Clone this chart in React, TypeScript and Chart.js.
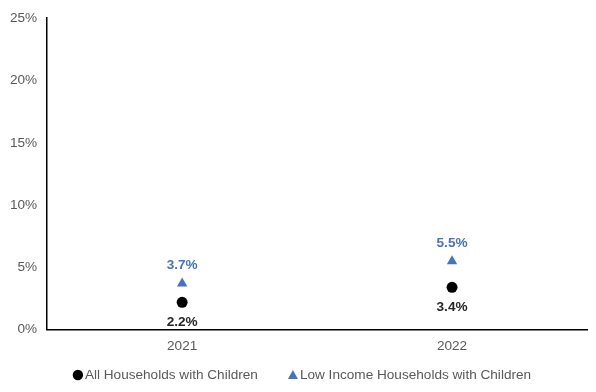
import React, { useEffect, useRef } from "react";
import { Chart, registerables } from "chart.js";

Chart.register(...registerables);

const categories = ["2021", "2022"];
const allHouseholds = [2.2, 3.4];
const lowIncome = [3.7, 5.5];
const seriesNames = ["All Households with Children", "Low Income Households with Children"];
const yTicks = [0, 5, 10, 15, 20, 25];

const FONT = "'Liberation Sans', Arial, sans-serif";
const BLUE = "#4472C4";
const FS = 13.6;

const labelPlugin = {
  id: "pointLabels",
  afterDatasetsDraw(chart: any) {
    const ctx = chart.ctx;
    ctx.save();
    ctx.font = `bold ${FS}px ${FONT}`;
    ctx.textAlign = "center";
    ctx.textBaseline = "middle";
    chart.data.datasets.forEach((ds: any, di: number) => {
      const meta = chart.getDatasetMeta(di);
      meta.data.forEach((el: any, i: number) => {
        const v = ds.data[i];
        const txt = v.toFixed(1) + "%";
        if (di === 0) {
          ctx.fillStyle = "#262626";
          ctx.fillText(txt, el.x, el.y + 20);
        } else {
          ctx.fillStyle = BLUE;
          ctx.fillText(txt, el.x, el.y - 18);
        }
      });
    });
    ctx.restore();
  },
};

const legendPlugin = {
  id: "customLegend",
  afterDraw(chart: any) {
    const ctx = chart.ctx;
    ctx.save();
    ctx.font = `${FS}px ${FONT}`;
    ctx.textBaseline = "middle";
    ctx.textAlign = "left";
    const markerW = 10;
    const gap = 2;
    const itemGap = 30;
    const widths = chart.data.datasets.map((ds: any) => markerW + gap + ctx.measureText(ds.label).width);
    const total = widths.reduce((a: number, b: number) => a + b, 0) + itemGap * (widths.length - 1);
    let x = chart.width / 2 - total / 2 + 4;
    const y = 375;
    chart.data.datasets.forEach((ds: any, di: number) => {
      const cx = x + markerW / 2;
      ctx.fillStyle = ds.backgroundColor;
      ctx.beginPath();
      if (ds.pointStyle === "triangle") {
        ctx.moveTo(cx, y - 5);
        ctx.lineTo(cx + 5, y + 4);
        ctx.lineTo(cx - 5, y + 4);
        ctx.closePath();
      } else {
        ctx.arc(cx, y, 5.2, 0, Math.PI * 2);
      }
      ctx.fill();
      ctx.fillStyle = "#595959";
      ctx.fillText(ds.label, x + markerW + gap, y);
      x += widths[di] + itemGap;
    });
    ctx.restore();
  },
};

export default function App() {
  const ref = useRef<HTMLCanvasElement | null>(null);
  useEffect(() => {
    if (!ref.current) return;
    const chart = new Chart(ref.current, {
      type: "line",
      data: {
        labels: categories,
        datasets: [
          {
            label: seriesNames[0],
            data: allHouseholds,
            showLine: false,
            pointStyle: "circle",
            pointRadius: 5.5,
            backgroundColor: "#000000",
            borderColor: "#000000",
            borderWidth: 0,
          },
          {
            label: seriesNames[1],
            data: lowIncome,
            showLine: false,
            pointStyle: "triangle",
            pointRadius: 6,
            backgroundColor: BLUE,
            borderColor: BLUE,
            borderWidth: 0,
          },
        ],
      },
      options: {
        animation: false,
        responsive: false,
        layout: { padding: { top: 15, left: 0, right: 9, bottom: 30 } },
        plugins: {
          legend: { display: false },
          tooltip: { enabled: false },
        },
        scales: {
          x: {
            offset: true,
            grid: { display: false, drawTicks: false },
            border: { display: true, color: "#000000", width: 1.5 },
            ticks: { color: "#595959", font: { family: FONT, size: FS }, padding: 8 },
          },
          y: {
            min: 0,
            max: 25,
            afterBuildTicks: (scale: any) => {
              scale.ticks = yTicks.map((v) => ({ value: v }));
            },
            grid: { display: false, drawTicks: false },
            border: { display: true, color: "#000000", width: 1.5 },
            ticks: {
              color: "#595959",
              font: { family: FONT, size: FS },
              padding: 10,
              callback: (v: any) => v + "%",
            },
          },
        },
      },
      plugins: [labelPlugin, legendPlugin],
    });
    return () => chart.destroy();
  }, []);
  return (
    <div style={{ position: "fixed", left: 0, top: 0, width: 596, height: 392, background: "#fff" }}>
      <canvas ref={ref} width={596} height={392} />
    </div>
  );
}
